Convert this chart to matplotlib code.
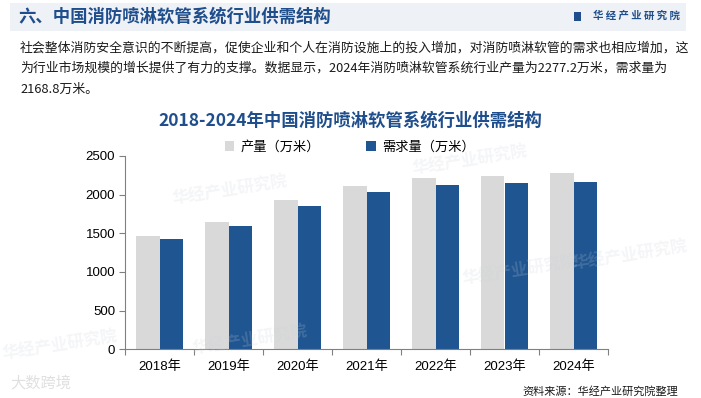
import matplotlib.pyplot as plt
import numpy as np
from matplotlib.patches import Rectangle

plt.rcParams['font.family'] = ['Noto Sans CJK SC', 'DejaVu Sans']

years = ["2018年", "2019年", "2020年", "2021年", "2022年", "2023年", "2024年"]
production = [1467, 1649, 1934, 2115, 2218, 2245, 2277.2]
demand = [1428, 1597, 1856, 2037, 2128, 2154, 2168.8]
series_names = ["产量（万米）", "需求量（万米）"]
y_ticks = [0, 500, 1000, 1500, 2000, 2500]

header = "六、中国消防喷淋软管系统行业供需结构"
body_lines = [
    "社会整体消防安全意识的不断提高，促使企业和个人在消防设施上的投入增加，对消防喷淋软管的需求也相应增加，这",
    "为行业市场规模的增长提供了有力的支撑。数据显示，2024年消防喷淋软管系统行业产量为2277.2万米，需求量为",
    "2168.8万米。",
]
chart_title = "2018-2024年中国消防喷淋软管系统行业供需结构"
source = "资料来源：华经产业研究院整理"

GRAY = "#d9d9d9"
BLUE = "#1f5591"
DARK = "#1f4e8c"

W, H = 701, 398
fig = plt.figure(figsize=(W / 100, H / 100), dpi=100)


def fy(y):
    return 1 - y / H


def fx(x):
    return x / W


# header band
fig.patches.append(Rectangle((fx(10), fy(31)), fx(676), 28 / H, transform=fig.transFigure,
                             facecolor="#eef1f6", edgecolor="none", zorder=0))
fig.text(fx(18), fy(17), header, fontsize=12.5, fontweight="bold", color=DARK, va="center")
fig.patches.append(Rectangle((fx(574), fy(21)), 7 / W, 9 / H, transform=fig.transFigure,
                             facecolor=DARK, edgecolor="none"))
fig.text(fx(680), fy(16), "华 经 产 业 研 究 院", fontsize=7.5, fontweight="bold",
         color=DARK, ha="right", va="center")

for i, line in enumerate(body_lines):
    fig.text(fx(20), fy(48 + 20.5 * i), line, fontsize=9.25, color="#1a1a1a", va="center")

# faint watermarks
for (x, y) in [(230, 190), (250, 340), (630, 255), (60, 345), (470, 160), (520, 270)]:
    fig.text(fx(x), fy(y), "华经产业研究院", fontsize=12, fontweight="bold", color="#c9cfd8",
             alpha=0.2, rotation=9, ha="center", va="center", zorder=0)
fig.text(fx(10), fy(383), "大数跨境", fontsize=11, color="#e0e0e0", va="center")

fig.text(fx(350), fy(121), chart_title, fontsize=12.5, fontweight="bold", color=DARK,
         ha="center", va="center")

ax = fig.add_axes([fx(125), 1 - 349.3 / H, (608 - 125) / W, 193.3 / H])
x = np.arange(len(years))
bw = 0.335
ax.bar(x - bw / 2, production, width=bw, color=GRAY, label=series_names[0], zorder=2)
ax.bar(x + bw / 2, demand, width=bw, color=BLUE, label=series_names[1], zorder=2)

ax.set_xlim(-0.5, len(years) - 0.5)
ax.set_ylim(0, 2500)
ax.set_yticks(y_ticks)
ax.set_yticklabels([str(v) for v in y_ticks], family=["Liberation Sans", "Noto Sans CJK SC"], fontsize=9.5)
ax.set_xticks(np.arange(-0.5, len(years), 1.0))
ax.set_xticklabels([])
ax.set_xticks(x, minor=True)
ax.set_xticklabels(years, minor=True, family=["Liberation Sans", "Noto Sans CJK SC"], fontsize=9.5)
ax.tick_params(axis="x", which="major", length=4, color="#808080", direction="out")
ax.tick_params(axis="x", which="minor", length=0, pad=8)
ax.tick_params(axis="y", length=4, color="#808080", direction="out", pad=3)
for s in ["top", "right"]:
    ax.spines[s].set_visible(False)
for s in ["left", "bottom"]:
    ax.spines[s].set_color("#808080")
    ax.spines[s].set_linewidth(0.8)
ax.patch.set_alpha(0)

ax.legend(loc="center", bbox_to_anchor=(fx(350), fy(147)), bbox_transform=fig.transFigure,
          ncol=2, frameon=False, fontsize=9.5, handlelength=0.7, handleheight=0.7,
          columnspacing=3.5, handletextpad=0.5)

fig.text(fx(678), fy(391), source, fontsize=8, color="#1a1a1a", ha="right", va="center")

fig.savefig("out.png", dpi=100)
